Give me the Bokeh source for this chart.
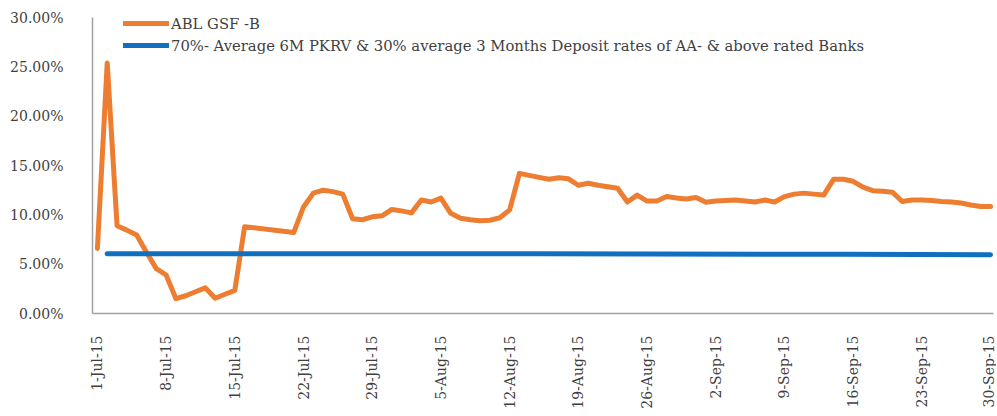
import math
import pandas as pd
from bokeh.plotting import figure
from bokeh.models import FixedTicker, Legend, LegendItem, Range1d, NumeralTickFormatter
from bokeh.embed import file_html
from bokeh.resources import INLINE

# ---------------- data ----------------
abl_dates = ["07-01", "07-02", "07-03", "07-04", "07-05", "07-06", "07-07", "07-08",
             "07-09", "07-10", "07-11", "07-12", "07-13", "07-14", "07-15", "07-16",
             "07-21", "07-22", "07-23", "07-24", "07-25", "07-26", "07-27", "07-28",
             "07-29", "07-30", "07-31", "08-01", "08-02", "08-03", "08-04", "08-05",
             "08-06", "08-07", "08-08", "08-09", "08-10", "08-11", "08-12", "08-13",
             "08-14", "08-15", "08-16", "08-17", "08-18", "08-19", "08-20", "08-21",
             "08-22", "08-23", "08-24", "08-25", "08-26", "08-27", "08-28", "08-29",
             "08-30", "08-31", "09-01", "09-02", "09-03", "09-04", "09-05", "09-06",
             "09-07", "09-08", "09-09", "09-10", "09-11", "09-12", "09-13", "09-14",
             "09-15", "09-16", "09-17", "09-18", "09-19", "09-20", "09-21", "09-22",
             "09-23", "09-24", "09-25", "09-26", "09-27", "09-28", "09-29", "09-30"]
abl_values = [6.6, 25.4, 8.9, 8.45, 7.95, 6.2, 4.55, 3.9,
              1.5, 1.8, 2.2, 2.6, 1.55, 1.95, 2.35, 8.8,
              8.2, 10.8, 12.2, 12.5, 12.35, 12.1, 9.6, 9.5,
              9.8, 9.9, 10.55, 10.4, 10.2, 11.5, 11.3, 11.7,
              10.15, 9.65, 9.5, 9.4, 9.45, 9.7, 10.5, 14.2,
              14.0, 13.8, 13.6, 13.75, 13.65, 13.0, 13.2, 13.0,
              12.85, 12.7, 11.3, 12.0, 11.4, 11.4, 11.85, 11.7,
              11.6, 11.75, 11.27, 11.4, 11.45, 11.5, 11.4, 11.3,
              11.5, 11.3, 11.85, 12.1, 12.2, 12.1, 12.0, 13.6,
              13.6, 13.4, 12.8, 12.45, 12.4, 12.3, 11.35, 11.5,
              11.5, 11.45, 11.35, 11.3, 11.2, 11.0, 10.85, 10.85]

bench_dates = ["07-02", "08-15", "09-15", "09-30"]
bench_values = [6.05, 6.05, 6.0, 5.95]

tick_dates = ["07-01", "07-08", "07-15", "07-22", "07-29", "08-05", "08-12",
              "08-19", "08-26", "09-02", "09-09", "09-16", "09-23", "09-30"]
tick_labels = ["1-Jul-15", "8-Jul-15", "15-Jul-15", "22-Jul-15", "29-Jul-15",
               "5-Aug-15", "12-Aug-15", "19-Aug-15", "26-Aug-15", "2-Sep-15",
               "9-Sep-15", "16-Sep-15", "23-Sep-15", "30-Sep-15"]

y_ticks = [0, 5, 10, 15, 20, 25, 30]

series_names = ["ABL GSF -B",
                "70%- Average 6M PKRV & 30% average 3 Months Deposit rates of AA- & above rated Banks"]

start = pd.Timestamp("2015-07-01")


def day_index(lst):
    return [(pd.Timestamp("2015-" + d) - start).days for d in lst]


abl_x = day_index(abl_dates)
bench_x = day_index(bench_dates)
tick_x = day_index(tick_dates)

FONT = "DejaVu Serif"
TXT = "#3f3f3f"
ORANGE = "#ED7D31"
BLUE = "#1070BE"
AXIS = "#a0a0a0"

p = figure(width=996, height=414, output_backend="svg", toolbar_location=None,
           x_range=Range1d(-0.5, 91.3), y_range=Range1d(0, 30),
           min_border_left=92, min_border_right=3, min_border_top=17, min_border_bottom=101)
p.outline_line_color = None
p.xgrid.visible = False
p.ygrid.visible = False
p.background_fill_color = "white"

r1 = p.line(abl_x, abl_values, line_color=ORANGE, line_width=5, line_join="round", line_cap="round")
r2 = p.line(bench_x, bench_values, line_color=BLUE, line_width=5, line_join="round", line_cap="round")

# y axis
p.yaxis.ticker = FixedTicker(ticks=y_ticks)
p.yaxis.formatter = NumeralTickFormatter(format="0.00")
p.yaxis.major_label_overrides = {v: f"{v:.2f}%" for v in y_ticks}
p.yaxis.major_label_standoff = 29

# x axis
p.xaxis.ticker = FixedTicker(ticks=tick_x)
p.xaxis.major_label_overrides = {x: lab for x, lab in zip(tick_x, tick_labels)}
p.xaxis.major_label_orientation = math.pi / 2
p.xaxis.major_label_standoff = 22

for ax in (p.xaxis, p.yaxis):
    ax.major_tick_line_color = None
    ax.minor_tick_line_color = None
    ax.major_tick_out = 0
    ax.major_tick_in = 0
    ax.axis_label_standoff = 0
    ax.axis_line_color = AXIS
    ax.axis_line_width = 1.5
    ax.major_label_text_font = FONT
    ax.major_label_text_font_size = "14px"
    ax.major_label_text_color = TXT

legend = Legend(items=[LegendItem(label=series_names[0], renderers=[r1]),
                       LegendItem(label=series_names[1], renderers=[r2])],
                location=(31, 258))
legend.margin = 0
legend.padding = 0
legend.spacing = 2
legend.glyph_width = 46
legend.glyph_height = 20
legend.label_standoff = 2
legend.label_text_font = FONT
legend.label_text_font_size = "14.8px"
legend.label_text_color = TXT
legend.border_line_color = None
legend.background_fill_alpha = 0
p.add_layout(legend)

open("out.html", "w").write(file_html(p, INLINE))
